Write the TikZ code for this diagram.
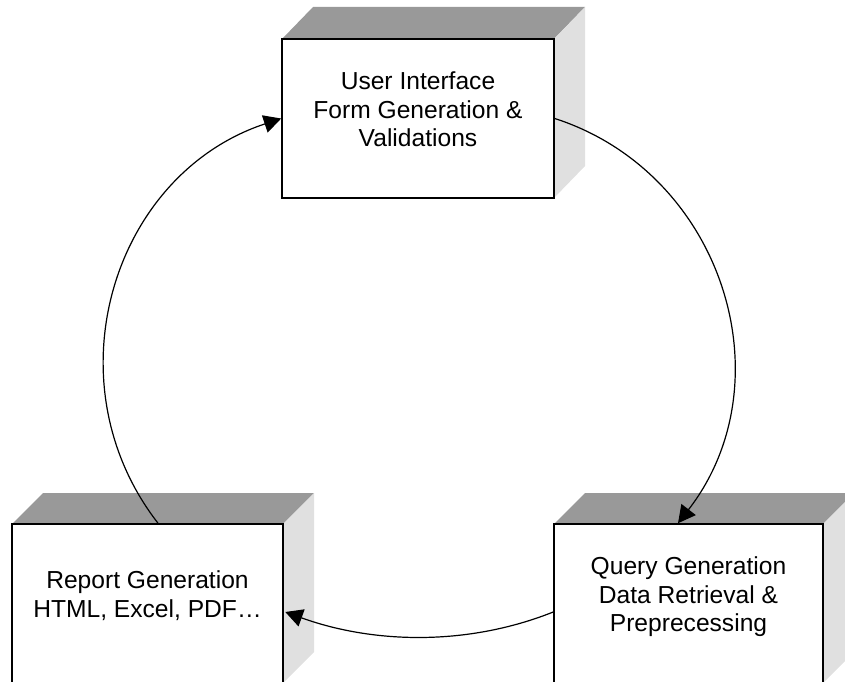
\documentclass[tikz,border=0pt]{standalone}
\usepackage{fontspec}
\setmainfont{Liberation Sans}
\usetikzlibrary{arrows.meta,calc}
\definecolor{topgray}{RGB}{153,153,153}
\definecolor{sidegray}{RGB}{224,224,224}
\begin{document}
\begin{tikzpicture}[x=0.75pt,y=-0.75pt,
  front/.style={draw=black, line width=1.2pt, fill=white, inner sep=0pt, minimum height=119.25pt},
  lbl/.style={align=center, inner sep=0pt, anchor=north, font=\fontsize{18.45pt}{21.26pt}\selectfont},
  flow/.style={line width=0.9pt, -{Triangle[length=13pt,width=13.5pt]}},
]
\useasboundingbox (0,0) rectangle (845,681);
\clip (0,0) rectangle (845,681);
% top box
\fill[topgray] (282,39) -- (313,7) -- (585,7) -- (554,39) -- cycle;
\fill[sidegray] (554,39) -- (585,7) -- (585,166) -- (554,198) -- cycle;
\node[front, minimum width=204pt] (ui) at (418,118.5) {};
\node[lbl] (uitext) at (418,71.6) {User Interface\\Form Generation \&\\Validations};
% bottom-left box
\fill[topgray] (12,524) -- (43,493) -- (314,493) -- (283,524) -- cycle;
\fill[sidegray] (283,524) -- (314,493) -- (314,652) -- (283,683) -- cycle;
\node[front, minimum width=203.25pt] (rl) at (147.5,603.5) {};
\node[lbl] (rltext) at (147.5,570.8) {Report Generation\\HTML, Excel, PDF…};
% bottom-right box
\fill[topgray] (554,524) -- (585,493) -- (854,493) -- (823,524) -- cycle;
\fill[sidegray] (823,524) -- (854,493) -- (854,652) -- (823,683) -- cycle;
\node[front, minimum width=201.75pt] (qr) at (688.5,603.5) {};
\node[lbl] (qrtext) at (688.5,556.6) {Query Generation\\Data Retrieval \&\\Preprecessing};
% connectors
\draw[flow] (ui.east) .. controls (723,173) and (787.6,381.6) .. ($(qr.north)+(-10.5,0)$);
\draw[flow] ($(qr.west)+(0,8.5)$) .. controls (468,646) and (374,644) .. ($(rl.east)+(1.5,8.5)$);
\draw[flow] ($(rl.north)+(10.5,0)$) .. controls (48.5,382) and (112.5,174.4) .. (ui.west);
\end{tikzpicture}
\end{document}
